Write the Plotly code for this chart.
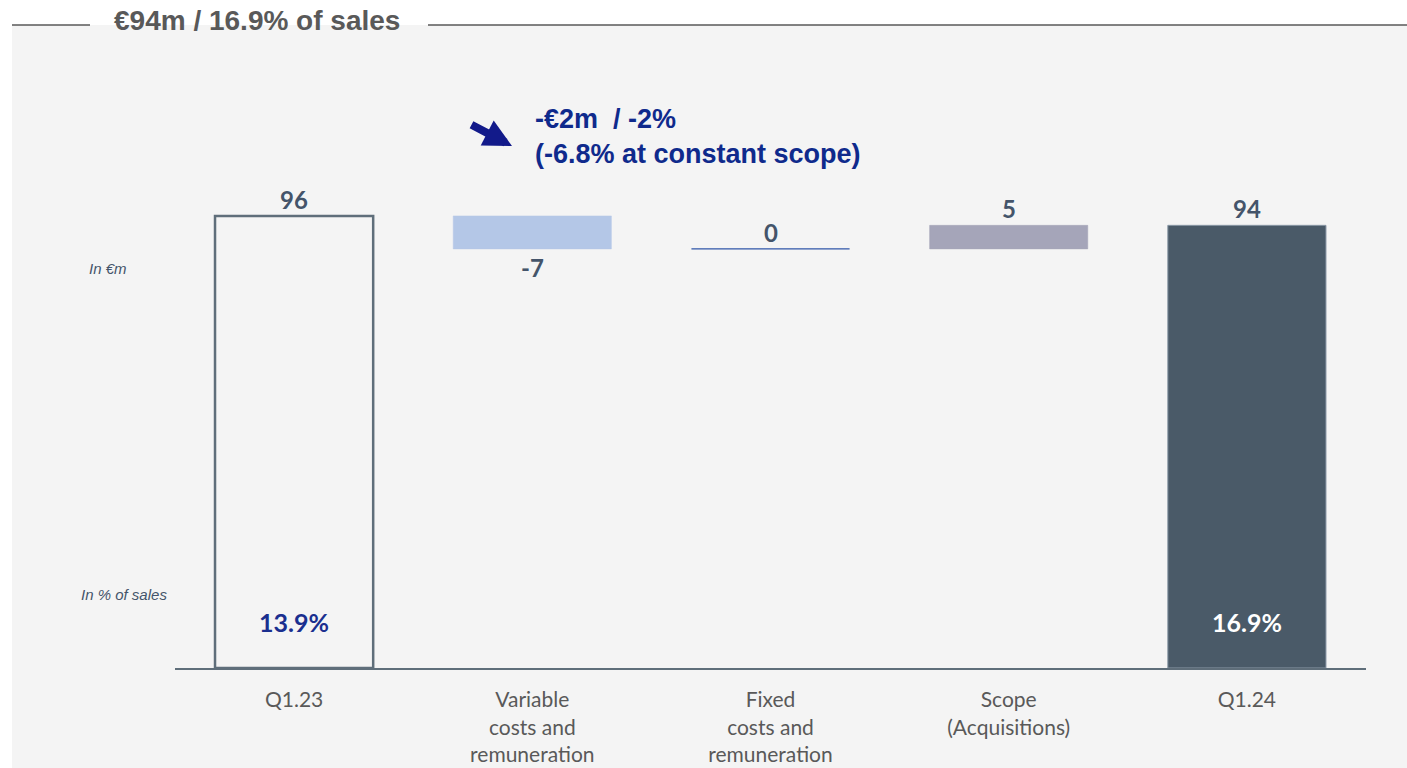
import plotly.graph_objects as go

# ---- data ----
categories = ["Q1.23", "Variable<br>costs and<br>remuneration", "Fixed<br>costs and<br>remuneration",
              "Scope<br>(Acquisitions)", "Q1.24"]
values = [96, -7, 0, 5, 94]
measures = ["total", "relative", "relative", "relative", "total"]
value_labels = ["96", "-7", "0", "5", "94"]
pct_labels = ["13.9%", "", "", "", "16.9%"]
title_text = "€94m / 16.9% of sales"
note_lines = ["-€2m  / -2%", "(-6.8% at constant scope)"]

fill_colors = ["rgba(0,0,0,0)", "#b4c7e7", "#2f55a8", "#a5a5b9", "#4a5a68"]
line_colors = ["#5f6e7a", "#b4c7e7", "#2f55a8", "#a5a5b9", "#8a98a6"]
line_widths = [2.5, 0.5, 1.2, 0.5, 1]
pct_colors = ["#1a2f8f", None, None, None, "white"]

# ---- compute waterfall bases ----
bases, heights, tops, bottoms = [], [], [], []
running = 0
for v, m in zip(values, measures):
    if m == "total":
        base, h = 0, v
        running = v
    else:
        base, h = running, v
        running += v
    bases.append(base)
    heights.append(h)
    tops.append(max(base, base + h))
    bottoms.append(min(base, base + h))

xs = list(range(len(categories)))

# ---- layout geometry (body margin removed, figure fills the page) ----
W, H = 1407, 768
L, T = 175, 150
B = H - 668
R = W - 1366
pw, ph = W - L - R, H - T - B
def px(x):
    return (x - L) / pw
def py(y):
    return (H - B - y) / ph

fig = go.Figure()
fig.add_trace(go.Bar(
    x=xs, y=heights, base=bases, width=0.664,
    marker=dict(color=fill_colors, line=dict(color=line_colors, width=line_widths)),
    hoverinfo="skip", showlegend=False))

annotations = []
lab_font = dict(family="Lato", size=24, color="#44546a")
for x, v, lab, t, b in zip(xs, values, value_labels, tops, bottoms):
    if v >= 0:
        annotations.append(dict(x=x, y=t, xref="x", yref="y", text="<b>%s</b>" % lab, showarrow=False,
                                yanchor="bottom", yshift=0, font=lab_font))
    else:
        annotations.append(dict(x=x, y=b, xref="x", yref="y", text="<b>%s</b>" % lab, showarrow=False,
                                yanchor="top", yshift=-2, font=lab_font))

for x, t in zip(xs, pct_labels):
    if t:
        annotations.append(dict(x=x, y=py(622), xref="x", yref="paper", text="<b>%s</b>" % t,
                                showarrow=False, yanchor="middle",
                                font=dict(family="Lato", size=25, color=pct_colors[x])))

# side labels
side_font = dict(family="Liberation Sans", size=15, color="#44546a")
annotations.append(dict(x=px(87), y=py(268), xref="paper", yref="paper", text="<i>In €m</i>",
                        showarrow=False, xanchor="left", yanchor="middle", font=side_font))
annotations.append(dict(x=px(79), y=py(594), xref="paper", yref="paper", text="<i>In % of sales</i>",
                        showarrow=False, xanchor="left", yanchor="middle", font=side_font))

# title
annotations.append(dict(x=px(112), y=py(21), xref="paper", yref="paper", text="<b>%s</b>" % title_text,
                        showarrow=False, xanchor="left", yanchor="middle",
                        font=dict(family="Liberation Sans", size=28, color="#595959")))

# note text
annotations.append(dict(x=px(533), y=py(137), xref="paper", yref="paper",
                        text="<b>%s</b>" % "<br>".join(note_lines), align="left",
                        showarrow=False, xanchor="left", yanchor="middle",
                        font=dict(family="Liberation Sans", size=27, color="#0f2a8c")))
# arrow
annotations.append(dict(x=px(512), y=py(146), xref="paper", yref="paper", text="",
                        axref="pixel", ayref="pixel", ax=-42, ay=-22, showarrow=True,
                        arrowhead=2, arrowsize=0.7, arrowwidth=8, arrowcolor="#121a8a"))

shapes = [
    dict(type="rect", xref="paper", yref="paper", x0=px(12), x1=px(1420), y0=py(780), y1=py(25),
         fillcolor="#f4f4f4", line=dict(width=0), layer="below"),
    dict(type="line", xref="paper", yref="paper", x0=px(12), x1=px(90), y0=py(25), y1=py(25),
         line=dict(color="#595959", width=1.5)),
    dict(type="line", xref="paper", yref="paper", x0=px(428), x1=px(1407), y0=py(25), y1=py(25),
         line=dict(color="#595959", width=1.5)),
]

fig.update_layout(
    width=W, height=H, margin=dict(l=L, r=R, t=T, b=B, autoexpand=False),
    paper_bgcolor="white", plot_bgcolor="rgba(0,0,0,0)",
    xaxis=dict(tickmode="array", tickvals=xs, ticktext=categories, range=[-0.5, len(xs) - 0.5],
               showgrid=False, zeroline=False, showline=True, linecolor="#5f6e7a", linewidth=2,
               ticks="", tickfont=dict(family="Lato", size=21, color="#595959"), ticklabelstandoff=12,
               fixedrange=True),
    yaxis=dict(range=[0, 110], visible=False, fixedrange=True),
    annotations=annotations, shapes=shapes, showlegend=False,
)
fig.write_html("out.html", config=dict(displayModeBar=False),
               post_script="document.body.style.margin='0';document.body.style.overflow='hidden';")
